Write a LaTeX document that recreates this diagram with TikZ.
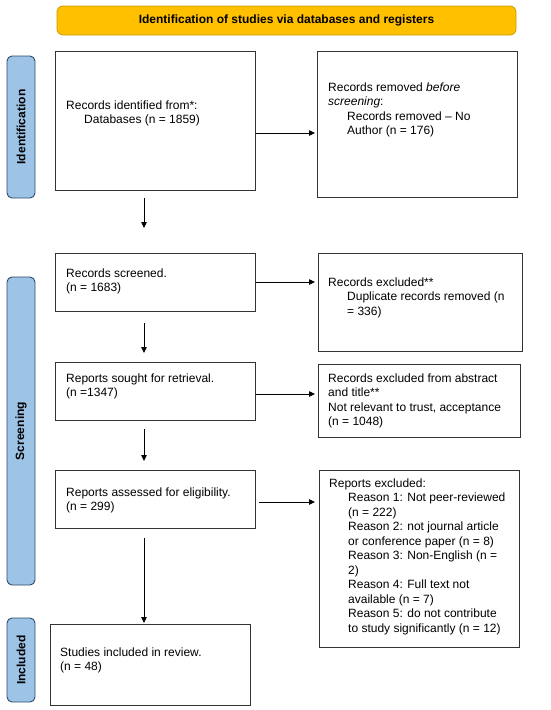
\documentclass[tikz,border=0pt]{standalone}
\usepackage{fontspec}
\setmainfont{Liberation Sans}
\usetikzlibrary{arrows.meta}
\definecolor{gold}{HTML}{FFC000}
\definecolor{goldline}{HTML}{C99A00}
\definecolor{sideblue}{HTML}{9DC3E6}
\definecolor{sideline}{HTML}{2E4A66}
\definecolor{boxline}{HTML}{333333}
\begin{document}
\begin{tikzpicture}[x=1pt,y=-1pt,
  box/.style={draw=boxline, line width=0.9pt, fill=white, anchor=north west, inner sep=0pt},
  txt/.style={font=\fontsize{12}{14.5}\selectfont, align=left, inner sep=0pt, anchor=north west},
  sidelab/.style={draw=sideline, fill=sideblue, line width=0.9pt, rounded corners=5pt, rotate=90,
    minimum height=28pt, inner sep=0pt, font=\fontsize{12}{14}\selectfont\bfseries},
  banner/.style={draw=goldline, fill=gold, line width=0.8pt, rounded corners=6pt,
    inner sep=0pt, font=\fontsize{12}{14}\selectfont\bfseries},
  arr/.style={draw=black, line width=0.8pt, -{Triangle[length=6pt,width=5.5pt]}}
]
\useasboundingbox (0,0) rectangle (550,710);

% banner
\node[banner, minimum width=459pt, minimum height=29pt] (T) at (286.5,20.5)
  {Identification of studies via databases and registers};

% side labels
\node[sidelab, minimum width=142pt] (L1) at (21,127) {Identification};
\node[sidelab, minimum width=308pt] (L2) at (21,431) {Screening};
\node[sidelab, minimum width=84pt] (L3) at (21,660) {Included};

% boxes
\node[box, minimum width=200pt, minimum height=139pt] (A) at (55,51) {};
\node[box, minimum width=200pt, minimum height=146pt] (B) at (317,51) {};
\node[box, minimum width=200pt, minimum height=58pt] (C) at (55,253) {};
\node[box, minimum width=204pt, minimum height=98pt] (D) at (318,253) {};
\node[box, minimum width=200pt, minimum height=58pt] (E) at (55,362) {};
\node[box, minimum width=202pt, minimum height=73pt] (F) at (318,364) {};
\node[box, minimum width=200pt, minimum height=58pt] (G) at (55,470) {};
\node[box, minimum width=200pt, minimum height=177pt] (H) at (319,470) {};
\node[box, minimum width=200pt, minimum height=81pt] (I) at (50,624) {};

% texts
\node[txt] (At) at (66,100.5) {Records identified from*:\\\hspace*{18pt}Databases (n = 1859)};
\node[txt] (Bt) at (328,82.5) {Records removed \textit{before}\\\textit{screening}:\\\hspace*{19pt}Records removed -- No\\\hspace*{19pt}Author (n = 176)};
\node[txt] (Ct) at (66,268.5) {Records screened.\\(n = 1683)};
\node[txt] (Dt) at (328,277.5) {Records excluded**\\\hspace*{19pt}Duplicate records removed (n\\\hspace*{19pt}= 336)};
\node[txt] (Et) at (66,373.5) {Reports sought for retrieval.\\(n =1347)};
\node[txt] (Ft) at (328,373.5) {Records excluded from abstract\\and title**\\Not relevant to trust, acceptance\\(n = 1048)};
\node[txt] (Gt) at (66,487.5) {Reports assessed for eligibility.\\(n = 299)};
\node[txt] (Ht) at (329,478.5) {Reports excluded:\\
  \hspace*{19pt}Reason 1: Not peer-reviewed\\
  \hspace*{19pt}(n = 222)\\
  \hspace*{19pt}Reason 2: not journal article\\
  \hspace*{19pt}or conference paper (n = 8)\\
  \hspace*{19pt}Reason 3: Non-English (n =\\
  \hspace*{19pt}2)\\
  \hspace*{19pt}Reason 4: Full text not\\
  \hspace*{19pt}available (n = 7)\\
  \hspace*{19pt}Reason 5: do not contribute\\
  \hspace*{19pt}to study significantly (n = 12)};
\node[txt] (It) at (60,647.5) {Studies included in review.\\(n = 48)};

% vertical arrow ends
\coordinate (a1s) at (144,198); \coordinate (a1e) at (144,228);
\coordinate (a2s) at (144,323); \coordinate (a2e) at (144,353);
\coordinate (a3s) at (144,429); \coordinate (a3e) at (144,461);
\coordinate (a4s) at (144,538); \coordinate (a4e) at (144,623);

\draw[arr] (a1s) -- (a1e);
\draw[arr] (a2s) -- (a2e);
\draw[arr] (a3s) -- (a3e);
\draw[arr] (a4s) -- (a4e);

% horizontal arrows
\draw[arr] (A.east |- 0,133) -- ([xshift=-2pt]B.west |- 0,133);
\draw[arr] (C.east |- 0,282) -- ([xshift=-3pt]D.west |- 0,282);
\draw[arr] (E.east |- 0,394) -- ([xshift=-3pt]F.west |- 0,394);
\draw[arr] ([xshift=3pt]G.east |- 0,502) -- ([xshift=-4pt]H.west |- 0,502);
\end{tikzpicture}
\end{document}
